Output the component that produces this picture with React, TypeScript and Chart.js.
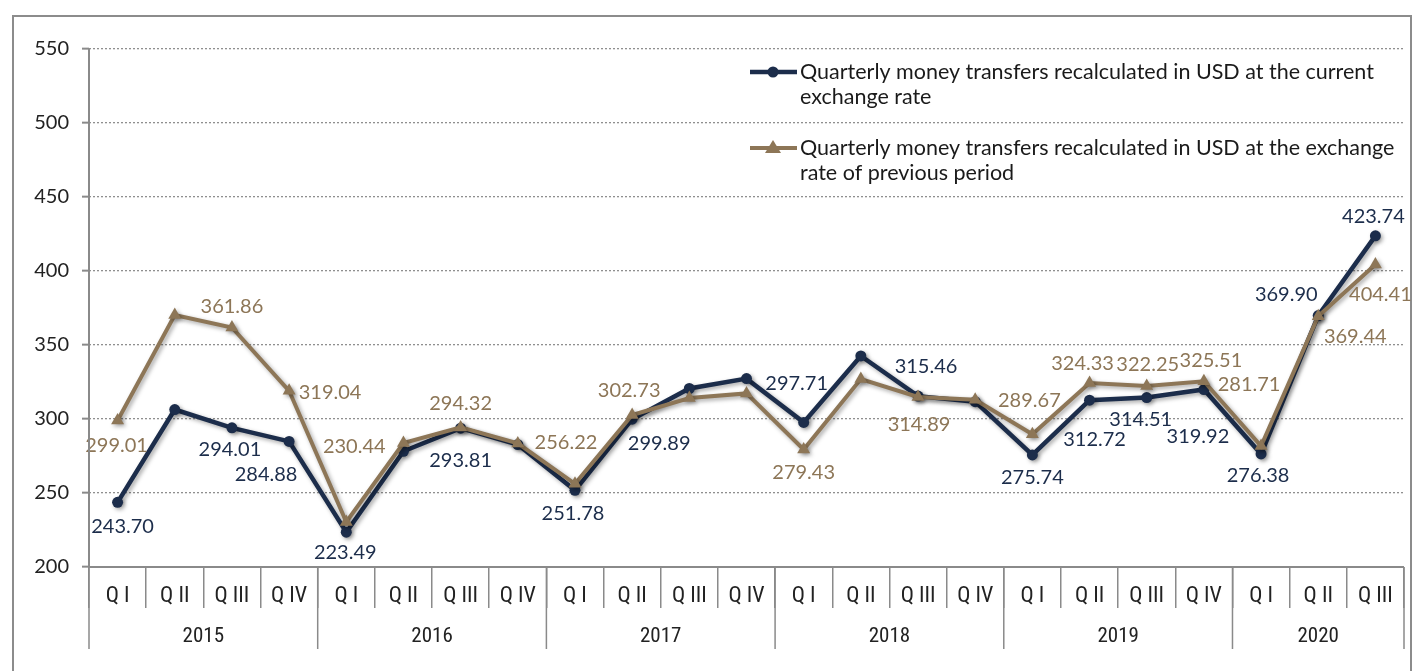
import React, { useEffect, useRef } from "react";
import { Chart, registerables } from "chart.js";

Chart.register(...registerables);

// ---------- data ----------
const quarterLabels = [
  "Q I", "Q II", "Q III", "Q IV",
  "Q I", "Q II", "Q III", "Q IV",
  "Q I", "Q II", "Q III", "Q IV",
  "Q I", "Q II", "Q III", "Q IV",
  "Q I", "Q II", "Q III", "Q IV",
  "Q I", "Q II", "Q III",
];
const yearLabels = ["2015", "2016", "2017", "2018", "2019", "2020"];
const yearQuarterCounts = [4, 4, 4, 4, 4, 3];

const currentRateSeries = [
  243.70, 306.4, 294.01, 284.88,
  223.49, 278.2, 293.81, 282.7,
  251.78, 299.89, 320.6, 327.3,
  297.71, 342.6, 315.46, 311.7,
  275.74, 312.72, 314.51, 319.92,
  276.38, 369.90, 423.74,
];
const previousRateSeries = [
  299.01, 370.2, 361.86, 319.04,
  230.44, 283.8, 294.32, 283.5,
  256.22, 302.73, 314.2, 317.3,
  279.43, 327.0, 314.89, 313.0,
  289.67, 324.33, 322.25, 325.51,
  281.71, 369.44, 404.41,
];

const yMin = 200;
const yMax = 550;
const yStep = 50;

const legendCurrentText = [
  "Quarterly money transfers recalculated in USD at the current",
  "exchange rate",
];
const legendPreviousText = [
  "Quarterly money transfers recalculated in USD at the exchange",
  "rate of previous period",
];

// label placement (offset from point, px); null = no label
const currentLabelOffsets: ([number, number] | null)[] = [
  [5, 24], null, [-2, 22], [-23, 33],
  [-1, 20], null, [0, 32], null,
  [-2, 23], [27, 24], null, null,
  [-7, -39], null, [8, -30], null,
  [0, 23], [5, 39], [-6, 22], [-6, 47],
  [-3, 22], [-32, -21], [-2, -19],
];
const previousLabelOffsets: ([number, number] | null)[] = [
  [-1, 25], null, [0, -21], [41, 2],
  [8, -75], null, [0, -24], null,
  [-9, -41], [-3, -24], null, null,
  [0, 23], null, [1, 28], null,
  [-3, -34], [-7, -19], [1, -22], [7, -21],
  [-12, -62], [37, 20], [5, 30],
];

// ---------- styles ----------
const NAVY = "#1c2d4b";
const BROWN = "#8d7657";
const AXIS_GRAY = "#8a8a8a";
const TEXT_FONT = "Lato, 'Open Sans', sans-serif";
const NARROW_FONT = "'Liberation Sans Narrow', 'Roboto Condensed', Roboto, sans-serif";

const shadowPlugin = {
  id: "shadow",
  beforeDatasetsDraw(chart: any) {
    const ctx = chart.ctx;
    ctx.save();
    ctx.shadowColor = "rgba(0,0,0,0.35)";
    ctx.shadowBlur = 4;
    ctx.shadowOffsetX = 2;
    ctx.shadowOffsetY = 2;
  },
  afterDatasetsDraw(chart: any) {
    chart.ctx.restore();
  },
};

const valueLabelPlugin = {
  id: "valueLabels",
  afterDatasetsDraw(chart: any) {
    const ctx = chart.ctx;
    const sets = [
      { idx: 0, offsets: previousLabelOffsets, color: BROWN },
      { idx: 1, offsets: currentLabelOffsets, color: NAVY },
    ];
    ctx.save();
    ctx.font = `20px ${TEXT_FONT}`;
    ctx.textAlign = "center";
    ctx.textBaseline = "middle";
    for (const s of sets) {
      const meta = chart.getDatasetMeta(s.idx);
      const data = chart.data.datasets[s.idx].data as number[];
      meta.data.forEach((pt: any, i: number) => {
        const off = s.offsets[i];
        if (!off) return;
        ctx.fillStyle = s.color;
        ctx.fillText(data[i].toFixed(2), pt.x + off[0], pt.y + off[1]);
      });
    }
    ctx.restore();
  },
};

const axisLinePlugin = {
  id: "axisLines",
  afterDraw(chart: any) {
    const ctx = chart.ctx;
    const area = chart.chartArea;
    const y = chart.scales.y;
    ctx.save();
    ctx.strokeStyle = AXIS_GRAY;
    ctx.lineWidth = 2;
    ctx.setLineDash([]);
    ctx.beginPath();
    ctx.moveTo(area.left, y.getPixelForValue(yMax));
    ctx.lineTo(area.left, y.getPixelForValue(yMin));
    ctx.lineTo(area.right, y.getPixelForValue(yMin));
    ctx.stroke();
    ctx.restore();
  },
};

const yearAxisPlugin = {
  id: "yearAxis",
  afterDraw(chart: any) {
    const ctx = chart.ctx;
    const x = chart.scales.x;
    const top = x.top;
    ctx.save();
    ctx.strokeStyle = AXIS_GRAY;
    ctx.lineWidth = 1.5;
    ctx.fillStyle = "#222";
    ctx.font = `21px ${NARROW_FONT}`;
    ctx.textAlign = "center";
    ctx.textBaseline = "middle";
    let start = 0;
    const bounds: number[] = [x.getPixelForValue(-0.5)];
    yearLabels.forEach((yl, k) => {
      const end = start + yearQuarterCounts[k];
      const x0 = x.getPixelForValue(start - 0.5);
      const x1 = x.getPixelForValue(end - 0.5);
      bounds.push(x1);
      ctx.fillText(yl, (x0 + x1) / 2, top + 70);
      start = end;
    });
    bounds.forEach((bx) => {
      ctx.beginPath();
      ctx.moveTo(bx, top);
      ctx.lineTo(bx, top + 82);
      ctx.stroke();
    });
    ctx.restore();
  },
};

const legendPlugin = {
  id: "customLegend",
  afterDraw(chart: any) {
    const ctx = chart.ctx;
    const area = chart.chartArea;
    const lx0 = area.right - 654;
    const lx1 = lx0 + 47;
    const mx = lx0 + 23;
    const tx = lx1 + 3;
    const y1 = area.top + 23;
    const y2 = area.top + 99;
    const lh = 25;
    ctx.save();
    ctx.strokeStyle = NAVY;
    ctx.lineWidth = 4.5;
    ctx.beginPath();
    ctx.moveTo(lx0, y1);
    ctx.lineTo(lx1, y1);
    ctx.stroke();
    ctx.fillStyle = NAVY;
    ctx.beginPath();
    ctx.arc(mx, y1, 5.5, 0, Math.PI * 2);
    ctx.fill();
    ctx.strokeStyle = BROWN;
    ctx.lineWidth = 4;
    ctx.beginPath();
    ctx.moveTo(lx0, y2);
    ctx.lineTo(lx1, y2);
    ctx.stroke();
    ctx.fillStyle = BROWN;
    ctx.beginPath();
    ctx.moveTo(mx, y2 - 8);
    ctx.lineTo(mx + 8, y2 + 5);
    ctx.lineTo(mx - 8, y2 + 5);
    ctx.closePath();
    ctx.fill();
    ctx.fillStyle = "#1a1a1a";
    ctx.font = `21.5px ${TEXT_FONT}`;
    ctx.textAlign = "left";
    ctx.textBaseline = "middle";
    legendCurrentText.forEach((t, i) => ctx.fillText(t, tx, y1 + i * lh));
    legendPreviousText.forEach((t, i) => ctx.fillText(t, tx, y2 + i * lh));
    ctx.restore();
  },
};

export default function App() {
  const canvasRef = useRef<HTMLCanvasElement | null>(null);

  useEffect(() => {
    if (!canvasRef.current) return;
    const chart = new Chart(canvasRef.current, {
      type: "line",
      data: {
        labels: quarterLabels,
        datasets: [
          {
            label: "Quarterly money transfers recalculated in USD at the exchange rate of previous period",
            data: previousRateSeries,
            borderColor: BROWN,
            backgroundColor: BROWN,
            borderWidth: 4,
            pointStyle: "triangle",
            pointRadius: 7.5,
            pointBorderWidth: 0,
            tension: 0,
            order: 0,
          },
          {
            label: "Quarterly money transfers recalculated in USD at the current exchange rate",
            data: currentRateSeries,
            borderColor: NAVY,
            backgroundColor: NAVY,
            borderWidth: 4.5,
            pointStyle: "circle",
            pointRadius: 5.5,
            pointBorderWidth: 0,
            tension: 0,
            order: 1,
          },
        ],
      },
      options: {
        responsive: false,
        animation: false,
        devicePixelRatio: 1,
        layout: { padding: { left: 0, top: 49, right: 14, bottom: 0 } },
        plugins: {
          legend: { display: false },
          tooltip: { enabled: false },
        },
        scales: {
          x: {
            type: "category",
            offset: true,
            grid: {
              display: true,
              offset: true,
              drawOnChartArea: false,
              drawTicks: true,
              tickLength: 41,
              color: AXIS_GRAY,
              lineWidth: 1.5,
              tickColor: AXIS_GRAY,
              tickWidth: 1.5,
            },
            border: { display: false },
            ticks: {
              autoSkip: false,
              maxRotation: 0,
              padding: -25,
              color: "#222",
              font: { family: NARROW_FONT, size: 22 },
            },
            afterFit: (s: any) => {
              s.height = 104;
            },
          },
          y: {
            min: yMin,
            max: yMax,
            ticks: {
              stepSize: yStep,
              padding: 13,
              color: "#222",
              font: { family: TEXT_FONT, size: 20 },
            },
            grid: {
              color: "#8f8f8f",
              lineWidth: 1.3,
              tickBorderDash: [],
              tickLength: 7,
              tickColor: AXIS_GRAY,
              tickWidth: 2,
            },
            border: { display: false, dash: [2, 2] },
            afterFit: (s: any) => {
              s.width = 89;
            },
          },
        },
      },
      plugins: [shadowPlugin, valueLabelPlugin, axisLinePlugin, yearAxisPlugin, legendPlugin],
    } as any);
    return () => chart.destroy();
  }, []);

  return (
    <div style={{ position: "fixed", left: 0, top: 0, width: 1418, height: 671, background: "#fff", overflow: "hidden" }}>
      <div
        style={{
          position: "absolute",
          left: 12,
          top: 15,
          width: 1400,
          height: 700,
          border: "2px solid #8c8c8c",
          boxSizing: "border-box",
        }}
      />
      <canvas ref={canvasRef} width={1418} height={671} style={{ position: "absolute", left: 0, top: 0 }} />
    </div>
  );
}
